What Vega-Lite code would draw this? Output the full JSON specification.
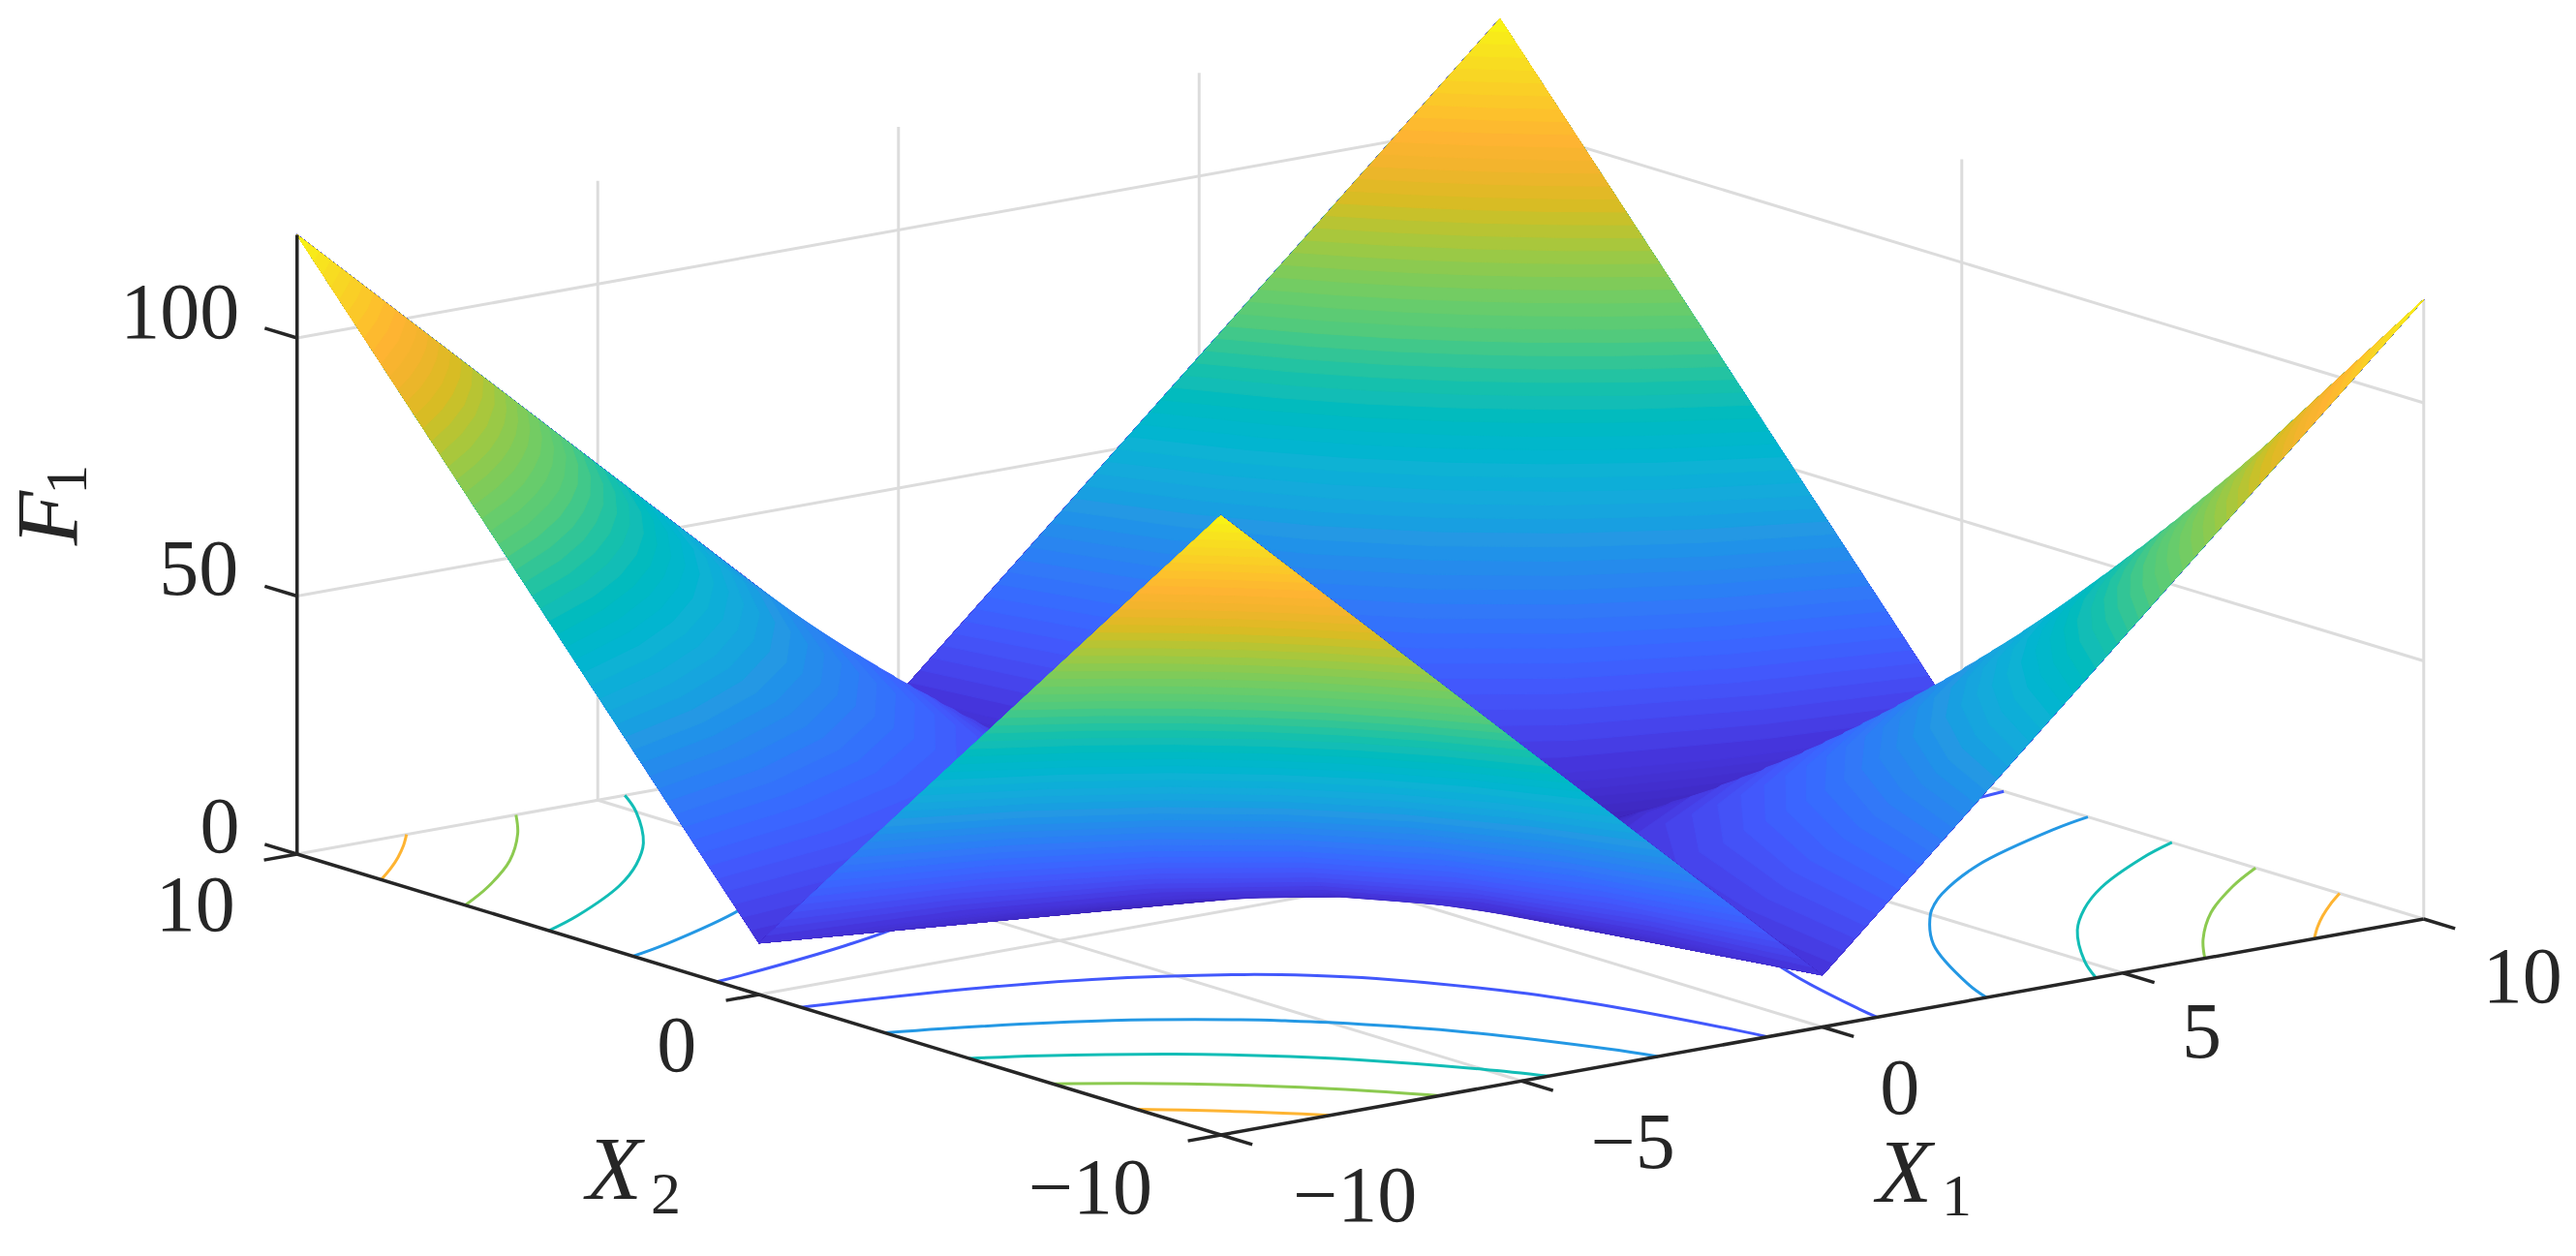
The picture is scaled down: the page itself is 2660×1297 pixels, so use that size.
{"$schema":"https://vega.github.io/schema/vega-lite/v6.json","autosize":{"type":"fit","contains":"padding"},"width":2660,"height":1297,"padding":0,"background":"white","view":{"stroke":null},
"datasets":{
"grid":[
{"g":"a","X1":-5,"X2":10,"F":0},{"g":"a","X1":-5,"X2":10,"F":120},
{"g":"b","X1":0,"X2":10,"F":0},{"g":"b","X1":0,"X2":10,"F":120},
{"g":"c","X1":5,"X2":10,"F":0},{"g":"c","X1":5,"X2":10,"F":120},
{"g":"d","X1":10,"X2":10,"F":0},{"g":"d","X1":10,"X2":10,"F":120},
{"g":"e","X1":10,"X2":0,"F":0},{"g":"e","X1":10,"X2":0,"F":120},
{"g":"f","X1":10,"X2":-10,"F":0},{"g":"f","X1":10,"X2":-10,"F":120},
{"g":"h","X1":-10,"X2":10,"F":0},{"g":"h","X1":10,"X2":10,"F":0},{"g":"h","X1":10,"X2":-10,"F":0},
{"g":"i","X1":-10,"X2":10,"F":50},{"g":"i","X1":10,"X2":10,"F":50},{"g":"i","X1":10,"X2":-10,"F":50},
{"g":"j","X1":-10,"X2":10,"F":100},{"g":"j","X1":10,"X2":10,"F":100},{"g":"j","X1":10,"X2":-10,"F":100},
{"g":"k","X1":-5,"X2":-10,"F":0},{"g":"k","X1":-5,"X2":10,"F":0},
{"g":"l","X1":0,"X2":-10,"F":0},{"g":"l","X1":0,"X2":10,"F":0},
{"g":"m","X1":5,"X2":-10,"F":0},{"g":"m","X1":5,"X2":10,"F":0},
{"g":"n","X1":-10,"X2":0,"F":0},{"g":"n","X1":10,"X2":0,"F":0}],
"axes":[
{"g":"z","X1":-10,"X2":10,"F":0},{"g":"z","X1":-10,"X2":10,"F":120},
{"g":"x2","X1":-10,"X2":10,"F":0},{"g":"x2","X1":-10,"X2":-10,"F":0},{"g":"x2","X1":10,"X2":-10,"F":0},
{"g":"t1","X1":-10,"X2":10,"F":0},{"g":"t1","X1":-10,"X2":10.7,"F":0},
{"g":"t2","X1":-10,"X2":10,"F":50},{"g":"t2","X1":-10,"X2":10.7,"F":50},
{"g":"t3","X1":-10,"X2":10,"F":100},{"g":"t3","X1":-10,"X2":10.7,"F":100},
{"g":"t4","X1":-10,"X2":10,"F":0},{"g":"t4","X1":-10.55,"X2":10,"F":0},
{"g":"t5","X1":-10,"X2":0,"F":0},{"g":"t5","X1":-10.55,"X2":0,"F":0},
{"g":"t6","X1":-10,"X2":-10,"F":0},{"g":"t6","X1":-10.55,"X2":-10,"F":0},
{"g":"t7","X1":-10,"X2":-10,"F":0},{"g":"t7","X1":-10,"X2":-10.68,"F":0},
{"g":"t8","X1":-5,"X2":-10,"F":0},{"g":"t8","X1":-5,"X2":-10.68,"F":0},
{"g":"t9","X1":0,"X2":-10,"F":0},{"g":"t9","X1":0,"X2":-10.68,"F":0},
{"g":"t10","X1":5,"X2":-10,"F":0},{"g":"t10","X1":5,"X2":-10.68,"F":0},
{"g":"t11","X1":10,"X2":-10,"F":0},{"g":"t11","X1":10,"X2":-10.68,"F":0}],
"contours":[
{"L":20,"a":0.91,"b":10},{"L":20,"a":1,"b":9.5},{"L":20,"a":1.5,"b":7.4},{"L":20,"a":2,"b":6},{"L":20,"a":3,"b":4.25},{"L":20,"a":3.58,"b":3.58},{"L":20,"a":4.25,"b":3},{"L":20,"a":6,"b":2},{"L":20,"a":7.4,"b":1.5},{"L":20,"a":9.5,"b":1},{"L":20,"a":10,"b":0.91},
{"L":40,"a":2.73,"b":10},{"L":40,"a":3,"b":9.25},{"L":40,"a":4,"b":7.2},{"L":40,"a":5,"b":5.83},{"L":40,"a":5.4,"b":5.4},{"L":40,"a":5.83,"b":5},{"L":40,"a":7.2,"b":4},{"L":40,"a":9.25,"b":3},{"L":40,"a":10,"b":2.73},
{"L":60,"a":4.55,"b":10},{"L":60,"a":5,"b":9.17},{"L":60,"a":6,"b":7.71},{"L":60,"a":6.81,"b":6.81},{"L":60,"a":7.71,"b":6},{"L":60,"a":9.17,"b":5},{"L":60,"a":10,"b":4.55},
{"L":80,"a":6.36,"b":10},{"L":80,"a":7,"b":9.13},{"L":80,"a":8,"b":8},{"L":80,"a":9.13,"b":7},{"L":80,"a":10,"b":6.36},
{"L":100,"a":8.18,"b":10},{"L":100,"a":8.6,"b":9.52},{"L":100,"a":9.05,"b":9.05},{"L":100,"a":9.52,"b":8.6},{"L":100,"a":10,"b":8.18}],
"bands":[
{"L":0,"a":0,"b":0},{"L":0,"a":10,"b":0,"F":10},{"L":0,"a":10,"b":10,"F":120},{"L":0,"a":0,"b":10,"F":10},
{"L":1,"a":0,"b":1},{"L":1,"a":0.2,"b":0.67},{"L":1,"a":0.41,"b":0.41},{"L":1,"a":0.67,"b":0.2},{"L":1,"a":1,"b":0},{"L":1,"a":10,"b":0,"F":10},{"L":1,"a":10,"b":10,"F":120},{"L":1,"a":0,"b":10,"F":10},
{"L":2,"a":0,"b":2},{"L":2,"a":0.2,"b":1.5},{"L":2,"a":0.4,"b":1.14},{"L":2,"a":0.73,"b":0.73},{"L":2,"a":1.14,"b":0.4},{"L":2,"a":1.5,"b":0.2},{"L":2,"a":2,"b":0},{"L":2,"a":10,"b":0,"F":10},{"L":2,"a":10,"b":10,"F":120},{"L":2,"a":0,"b":10,"F":10},
{"L":3,"a":0,"b":3},{"L":3,"a":0.25,"b":2.2},{"L":3,"a":0.5,"b":1.67},{"L":3,"a":1,"b":1},{"L":3,"a":1.67,"b":0.5},{"L":3,"a":2.2,"b":0.25},{"L":3,"a":3,"b":0},{"L":3,"a":10,"b":0,"F":10},{"L":3,"a":10,"b":10,"F":120},{"L":3,"a":0,"b":10,"F":10},
{"L":4,"a":0,"b":4},{"L":4,"a":0.25,"b":3},{"L":4,"a":0.6,"b":2.13},{"L":4,"a":1.24,"b":1.24},{"L":4,"a":2.13,"b":0.6},{"L":4,"a":3,"b":0.25},{"L":4,"a":4,"b":0},{"L":4,"a":10,"b":0,"F":10},{"L":4,"a":10,"b":10,"F":120},{"L":4,"a":0,"b":10,"F":10},
{"L":5,"a":0,"b":5},{"L":5,"a":0.3,"b":3.62},{"L":5,"a":0.7,"b":2.53},{"L":5,"a":1.45,"b":1.45},{"L":5,"a":2.53,"b":0.7},{"L":5,"a":3.62,"b":0.3},{"L":5,"a":5,"b":0},{"L":5,"a":10,"b":0,"F":10},{"L":5,"a":10,"b":10,"F":120},{"L":5,"a":0,"b":10,"F":10},
{"L":6,"a":0,"b":6},{"L":6,"a":0.3,"b":4.38},{"L":6,"a":0.8,"b":2.89},{"L":6,"a":1.65,"b":1.65},{"L":6,"a":2.89,"b":0.8},{"L":6,"a":4.38,"b":0.3},{"L":6,"a":6,"b":0},{"L":6,"a":10,"b":0,"F":10},{"L":6,"a":10,"b":10,"F":120},{"L":6,"a":0,"b":10,"F":10},
{"L":7,"a":0,"b":7},{"L":7,"a":0.3,"b":5.15},{"L":7,"a":0.9,"b":3.21},{"L":7,"a":1.83,"b":1.83},{"L":7,"a":3.21,"b":0.9},{"L":7,"a":5.15,"b":0.3},{"L":7,"a":7,"b":0},{"L":7,"a":10,"b":0,"F":10},{"L":7,"a":10,"b":10,"F":120},{"L":7,"a":0,"b":10,"F":10},
{"L":8,"a":0,"b":8},{"L":8,"a":0.3,"b":5.92},{"L":8,"a":0.8,"b":4},{"L":8,"a":2,"b":2},{"L":8,"a":4,"b":0.8},{"L":8,"a":5.92,"b":0.3},{"L":8,"a":8,"b":0},{"L":8,"a":10,"b":0,"F":10},{"L":8,"a":10,"b":10,"F":120},{"L":8,"a":0,"b":10,"F":10},
{"L":9,"a":0,"b":9},{"L":9,"a":0.25,"b":7},{"L":9,"a":0.8,"b":4.56},{"L":9,"a":2.16,"b":2.16},{"L":9,"a":4.56,"b":0.8},{"L":9,"a":7,"b":0.25},{"L":9,"a":9,"b":0},{"L":9,"a":10,"b":0,"F":10},{"L":9,"a":10,"b":10,"F":120},{"L":9,"a":0,"b":10,"F":10},
{"L":10,"a":0,"b":10},{"L":10,"a":0.2,"b":8.17},{"L":10,"a":0.5,"b":6.33},{"L":10,"a":1.3,"b":3.78},{"L":10,"a":2.32,"b":2.32},{"L":10,"a":3.78,"b":1.3},{"L":10,"a":6.33,"b":0.5},{"L":10,"a":8.17,"b":0.2},{"L":10,"a":10,"b":0},{"L":10,"a":10,"b":10,"F":120},
{"L":12,"a":0.18,"b":10},{"L":12,"a":0.6,"b":7.13},{"L":12,"a":1.4,"b":4.42},{"L":12,"a":2.61,"b":2.61},{"L":12,"a":4.42,"b":1.4},{"L":12,"a":7.13,"b":0.6},{"L":12,"a":10,"b":0.18},{"L":12,"a":10,"b":10,"F":120},
{"L":14,"a":0.36,"b":10},{"L":14,"a":0.8,"b":7.33},{"L":14,"a":1.6,"b":4.77},{"L":14,"a":2.87,"b":2.87},{"L":14,"a":4.77,"b":1.6},{"L":14,"a":7.33,"b":0.8},{"L":14,"a":10,"b":0.36},{"L":14,"a":10,"b":10,"F":120},
{"L":16,"a":0.55,"b":10},{"L":16,"a":1,"b":7.5},{"L":16,"a":1.9,"b":4.86},{"L":16,"a":3.12,"b":3.12},{"L":16,"a":4.86,"b":1.9},{"L":16,"a":7.5,"b":1},{"L":16,"a":10,"b":0.55},{"L":16,"a":10,"b":10,"F":120},
{"L":18,"a":0.73,"b":10},{"L":18,"a":1.2,"b":7.64},{"L":18,"a":2.1,"b":5.13},{"L":18,"a":3.36,"b":3.36},{"L":18,"a":5.13,"b":2.1},{"L":18,"a":7.64,"b":1.2},{"L":18,"a":10,"b":0.73},{"L":18,"a":10,"b":10,"F":120},
{"L":20,"a":0.91,"b":10},{"L":20,"a":1.5,"b":7.4},{"L":20,"a":2.4,"b":5.18},{"L":20,"a":3.58,"b":3.58},{"L":20,"a":5.18,"b":2.4},{"L":20,"a":7.4,"b":1.5},{"L":20,"a":10,"b":0.91},{"L":20,"a":10,"b":10,"F":120},
{"L":22,"a":1.09,"b":10},{"L":22,"a":1.7,"b":7.52},{"L":22,"a":2.6,"b":5.39},{"L":22,"a":3.8,"b":3.8},{"L":22,"a":5.39,"b":2.6},{"L":22,"a":7.52,"b":1.7},{"L":22,"a":10,"b":1.09},{"L":22,"a":10,"b":10,"F":120},
{"L":24,"a":1.27,"b":10},{"L":24,"a":1.9,"b":7.62},{"L":24,"a":2.8,"b":5.58},{"L":24,"a":4,"b":4},{"L":24,"a":5.58,"b":2.8},{"L":24,"a":7.62,"b":1.9},{"L":24,"a":10,"b":1.27},{"L":24,"a":10,"b":10,"F":120},
{"L":26,"a":1.45,"b":10},{"L":26,"a":2.1,"b":7.71},{"L":26,"a":3,"b":5.75},{"L":26,"a":4.2,"b":4.2},{"L":26,"a":5.75,"b":3},{"L":26,"a":7.71,"b":2.1},{"L":26,"a":10,"b":1.45},{"L":26,"a":10,"b":10,"F":120},
{"L":28,"a":1.64,"b":10},{"L":28,"a":2.3,"b":7.79},{"L":28,"a":3.2,"b":5.9},{"L":28,"a":4.39,"b":4.39},{"L":28,"a":5.9,"b":3.2},{"L":28,"a":7.79,"b":2.3},{"L":28,"a":10,"b":1.64},{"L":28,"a":10,"b":10,"F":120},
{"L":30,"a":1.82,"b":10},{"L":30,"a":2.5,"b":7.86},{"L":30,"a":3.4,"b":6.05},{"L":30,"a":4.57,"b":4.57},{"L":30,"a":6.05,"b":3.4},{"L":30,"a":7.86,"b":2.5},{"L":30,"a":10,"b":1.82},{"L":30,"a":10,"b":10,"F":120},
{"L":32,"a":2,"b":10},{"L":32,"a":2.7,"b":7.92},{"L":32,"a":3.6,"b":6.17},{"L":32,"a":4.75,"b":4.75},{"L":32,"a":6.17,"b":3.6},{"L":32,"a":7.92,"b":2.7},{"L":32,"a":10,"b":2},{"L":32,"a":10,"b":10,"F":120},
{"L":34,"a":2.18,"b":10},{"L":34,"a":2.9,"b":7.97},{"L":34,"a":3.8,"b":6.29},{"L":34,"a":4.92,"b":4.92},{"L":34,"a":6.29,"b":3.8},{"L":34,"a":7.97,"b":2.9},{"L":34,"a":10,"b":2.18},{"L":34,"a":10,"b":10,"F":120},
{"L":36,"a":2.36,"b":10},{"L":36,"a":3,"b":8.25},{"L":36,"a":4,"b":6.4},{"L":36,"a":5.08,"b":5.08},{"L":36,"a":6.4,"b":4},{"L":36,"a":8.25,"b":3},{"L":36,"a":10,"b":2.36},{"L":36,"a":10,"b":10,"F":120},
{"L":38,"a":2.55,"b":10},{"L":38,"a":3.2,"b":8.29},{"L":38,"a":4.2,"b":6.5},{"L":38,"a":5.25,"b":5.25},{"L":38,"a":6.5,"b":4.2},{"L":38,"a":8.29,"b":3.2},{"L":38,"a":10,"b":2.55},{"L":38,"a":10,"b":10,"F":120},
{"L":40,"a":2.73,"b":10},{"L":40,"a":3.4,"b":8.32},{"L":40,"a":4.3,"b":6.74},{"L":40,"a":5.4,"b":5.4},{"L":40,"a":6.74,"b":4.3},{"L":40,"a":8.32,"b":3.4},{"L":40,"a":10,"b":2.73},{"L":40,"a":10,"b":10,"F":120},
{"L":42,"a":2.91,"b":10},{"L":42,"a":3.6,"b":8.35},{"L":42,"a":4.5,"b":6.82},{"L":42,"a":5.56,"b":5.56},{"L":42,"a":6.82,"b":4.5},{"L":42,"a":8.35,"b":3.6},{"L":42,"a":10,"b":2.91},{"L":42,"a":10,"b":10,"F":120},
{"L":44,"a":3.09,"b":10},{"L":44,"a":3.8,"b":8.38},{"L":44,"a":4.7,"b":6.89},{"L":44,"a":5.71,"b":5.71},{"L":44,"a":6.89,"b":4.7},{"L":44,"a":8.38,"b":3.8},{"L":44,"a":10,"b":3.09},{"L":44,"a":10,"b":10,"F":120},
{"L":46,"a":3.27,"b":10},{"L":46,"a":4,"b":8.4},{"L":46,"a":4.9,"b":6.97},{"L":46,"a":5.86,"b":5.86},{"L":46,"a":6.97,"b":4.9},{"L":46,"a":8.4,"b":4},{"L":46,"a":10,"b":3.27},{"L":46,"a":10,"b":10,"F":120},
{"L":48,"a":3.45,"b":10},{"L":48,"a":4.2,"b":8.42},{"L":48,"a":5,"b":7.17},{"L":48,"a":6,"b":6},{"L":48,"a":7.17,"b":5},{"L":48,"a":8.42,"b":4.2},{"L":48,"a":10,"b":3.45},{"L":48,"a":10,"b":10,"F":120},
{"L":50,"a":3.64,"b":10},{"L":50,"a":4.4,"b":8.44},{"L":50,"a":5.2,"b":7.23},{"L":50,"a":6.14,"b":6.14},{"L":50,"a":7.23,"b":5.2},{"L":50,"a":8.44,"b":4.4},{"L":50,"a":10,"b":3.64},{"L":50,"a":10,"b":10,"F":120},
{"L":52,"a":3.82,"b":10},{"L":52,"a":4.6,"b":8.46},{"L":52,"a":5.4,"b":7.28},{"L":52,"a":6.28,"b":6.28},{"L":52,"a":7.28,"b":5.4},{"L":52,"a":8.46,"b":4.6},{"L":52,"a":10,"b":3.82},{"L":52,"a":10,"b":10,"F":120},
{"L":54,"a":4,"b":10},{"L":54,"a":4.8,"b":8.48},{"L":54,"a":5.6,"b":7.33},{"L":54,"a":6.42,"b":6.42},{"L":54,"a":7.33,"b":5.6},{"L":54,"a":8.48,"b":4.8},{"L":54,"a":10,"b":4},{"L":54,"a":10,"b":10,"F":120},
{"L":56,"a":4.18,"b":10},{"L":56,"a":5,"b":8.5},{"L":56,"a":5.8,"b":7.38},{"L":56,"a":6.55,"b":6.55},{"L":56,"a":7.38,"b":5.8},{"L":56,"a":8.5,"b":5},{"L":56,"a":10,"b":4.18},{"L":56,"a":10,"b":10,"F":120},
{"L":58,"a":4.36,"b":10},{"L":58,"a":5.1,"b":8.67},{"L":58,"a":5.9,"b":7.55},{"L":58,"a":6.68,"b":6.68},{"L":58,"a":7.55,"b":5.9},{"L":58,"a":8.67,"b":5.1},{"L":58,"a":10,"b":4.36},{"L":58,"a":10,"b":10,"F":120},
{"L":60,"a":4.55,"b":10},{"L":60,"a":5.3,"b":8.68},{"L":60,"a":6,"b":7.71},{"L":60,"a":6.81,"b":6.81},{"L":60,"a":7.71,"b":6},{"L":60,"a":8.68,"b":5.3},{"L":60,"a":10,"b":4.55},{"L":60,"a":10,"b":10,"F":120},
{"L":62,"a":4.73,"b":10},{"L":62,"a":5.5,"b":8.69},{"L":62,"a":6.2,"b":7.75},{"L":62,"a":6.94,"b":6.94},{"L":62,"a":7.75,"b":6.2},{"L":62,"a":8.69,"b":5.5},{"L":62,"a":10,"b":4.73},{"L":62,"a":10,"b":10,"F":120},
{"L":64,"a":4.91,"b":10},{"L":64,"a":5.6,"b":8.85},{"L":64,"a":6.3,"b":7.9},{"L":64,"a":7.06,"b":7.06},{"L":64,"a":7.9,"b":6.3},{"L":64,"a":8.85,"b":5.6},{"L":64,"a":10,"b":4.91},{"L":64,"a":10,"b":10,"F":120},
{"L":66,"a":5.09,"b":10},{"L":66,"a":5.8,"b":8.85},{"L":66,"a":6.5,"b":7.93},{"L":66,"a":7.19,"b":7.19},{"L":66,"a":7.93,"b":6.5},{"L":66,"a":8.85,"b":5.8},{"L":66,"a":10,"b":5.09},{"L":66,"a":10,"b":10,"F":120},
{"L":68,"a":5.27,"b":10},{"L":68,"a":6,"b":8.86},{"L":68,"a":6.7,"b":7.96},{"L":68,"a":7.31,"b":7.31},{"L":68,"a":7.96,"b":6.7},{"L":68,"a":8.86,"b":6},{"L":68,"a":10,"b":5.27},{"L":68,"a":10,"b":10,"F":120},
{"L":70,"a":5.45,"b":10},{"L":70,"a":6.1,"b":9},{"L":70,"a":6.8,"b":8.1},{"L":70,"a":7.43,"b":7.43},{"L":70,"a":8.1,"b":6.8},{"L":70,"a":9,"b":6.1},{"L":70,"a":10,"b":5.45},{"L":70,"a":10,"b":10,"F":120},
{"L":72,"a":5.64,"b":10},{"L":72,"a":6.3,"b":9},{"L":72,"a":7,"b":8.13},{"L":72,"a":7.54,"b":7.54},{"L":72,"a":8.13,"b":7},{"L":72,"a":9,"b":6.3},{"L":72,"a":10,"b":5.64},{"L":72,"a":10,"b":10,"F":120},
{"L":74,"a":5.82,"b":10},{"L":74,"a":6.5,"b":9},{"L":74,"a":7.1,"b":8.26},{"L":74,"a":7.66,"b":7.66},{"L":74,"a":8.26,"b":7.1},{"L":74,"a":9,"b":6.5},{"L":74,"a":10,"b":5.82},{"L":74,"a":10,"b":10,"F":120},
{"L":76,"a":6,"b":10},{"L":76,"a":6.6,"b":9.13},{"L":76,"a":7.2,"b":8.39},{"L":76,"a":7.78,"b":7.78},{"L":76,"a":8.39,"b":7.2},{"L":76,"a":9.13,"b":6.6},{"L":76,"a":10,"b":6},{"L":76,"a":10,"b":10,"F":120},
{"L":78,"a":6.18,"b":10},{"L":78,"a":6.8,"b":9.13},{"L":78,"a":7.4,"b":8.4},{"L":78,"a":7.89,"b":7.89},{"L":78,"a":8.4,"b":7.4},{"L":78,"a":9.13,"b":6.8},{"L":78,"a":10,"b":6.18},{"L":78,"a":10,"b":10,"F":120},
{"L":80,"a":6.36,"b":10},{"L":80,"a":7,"b":9.13},{"L":80,"a":7.5,"b":8.53},{"L":80,"a":8,"b":8},{"L":80,"a":8.53,"b":7.5},{"L":80,"a":9.13,"b":7},{"L":80,"a":10,"b":6.36},{"L":80,"a":10,"b":10,"F":120},
{"L":82,"a":6.55,"b":10},{"L":82,"a":7.1,"b":9.25},{"L":82,"a":7.6,"b":8.65},{"L":82,"a":8.11,"b":8.11},{"L":82,"a":8.65,"b":7.6},{"L":82,"a":9.25,"b":7.1},{"L":82,"a":10,"b":6.55},{"L":82,"a":10,"b":10,"F":120},
{"L":84,"a":6.73,"b":10},{"L":84,"a":7.4,"b":9.12},{"L":84,"a":8.22,"b":8.22},{"L":84,"a":9.12,"b":7.4},{"L":84,"a":10,"b":6.73},{"L":84,"a":10,"b":10,"F":120},
{"L":86,"a":6.91,"b":10},{"L":86,"a":7.6,"b":9.12},{"L":86,"a":8.33,"b":8.33},{"L":86,"a":9.12,"b":7.6},{"L":86,"a":10,"b":6.91},{"L":86,"a":10,"b":10,"F":120},
{"L":88,"a":7.09,"b":10},{"L":88,"a":7.7,"b":9.23},{"L":88,"a":8.43,"b":8.43},{"L":88,"a":9.23,"b":7.7},{"L":88,"a":10,"b":7.09},{"L":88,"a":10,"b":10,"F":120},
{"L":90,"a":7.27,"b":10},{"L":90,"a":7.9,"b":9.22},{"L":90,"a":8.54,"b":8.54},{"L":90,"a":9.22,"b":7.9},{"L":90,"a":10,"b":7.27},{"L":90,"a":10,"b":10,"F":120},
{"L":92,"a":7.45,"b":10},{"L":92,"a":8,"b":9.33},{"L":92,"a":8.64,"b":8.64},{"L":92,"a":9.33,"b":8},{"L":92,"a":10,"b":7.45},{"L":92,"a":10,"b":10,"F":120},
{"L":94,"a":7.64,"b":10},{"L":94,"a":8.2,"b":9.33},{"L":94,"a":8.75,"b":8.75},{"L":94,"a":9.33,"b":8.2},{"L":94,"a":10,"b":7.64},{"L":94,"a":10,"b":10,"F":120},
{"L":96,"a":7.82,"b":10},{"L":96,"a":8.3,"b":9.43},{"L":96,"a":8.85,"b":8.85},{"L":96,"a":9.43,"b":8.3},{"L":96,"a":10,"b":7.82},{"L":96,"a":10,"b":10,"F":120},
{"L":98,"a":8,"b":10},{"L":98,"a":8.4,"b":9.53},{"L":98,"a":8.95,"b":8.95},{"L":98,"a":9.53,"b":8.4},{"L":98,"a":10,"b":8},{"L":98,"a":10,"b":10,"F":120},
{"L":100,"a":8.18,"b":10},{"L":100,"a":9.05,"b":9.05},{"L":100,"a":10,"b":8.18},{"L":100,"a":10,"b":10,"F":120},
{"L":102,"a":8.36,"b":10},{"L":102,"a":9.15,"b":9.15},{"L":102,"a":10,"b":8.36},{"L":102,"a":10,"b":10,"F":120},
{"L":104,"a":8.55,"b":10},{"L":104,"a":9.25,"b":9.25},{"L":104,"a":10,"b":8.55},{"L":104,"a":10,"b":10,"F":120},
{"L":106,"a":8.73,"b":10},{"L":106,"a":9.34,"b":9.34},{"L":106,"a":10,"b":8.73},{"L":106,"a":10,"b":10,"F":120},
{"L":108,"a":8.91,"b":10},{"L":108,"a":9.44,"b":9.44},{"L":108,"a":10,"b":8.91},{"L":108,"a":10,"b":10,"F":120},
{"L":110,"a":9.09,"b":10},{"L":110,"a":9.54,"b":9.54},{"L":110,"a":10,"b":9.09},{"L":110,"a":10,"b":10,"F":120},
{"L":112,"a":9.27,"b":10},{"L":112,"a":9.63,"b":9.63},{"L":112,"a":10,"b":9.27},{"L":112,"a":10,"b":10,"F":120},
{"L":114,"a":9.45,"b":10},{"L":114,"a":9.72,"b":9.72},{"L":114,"a":10,"b":9.45},{"L":114,"a":10,"b":10,"F":120},
{"L":116,"a":9.64,"b":10},{"L":116,"a":9.82,"b":9.82},{"L":116,"a":10,"b":9.64},{"L":116,"a":10,"b":10,"F":120},
{"L":118,"a":9.82,"b":10},{"L":118,"a":9.91,"b":9.91},{"L":118,"a":10,"b":9.82},{"L":118,"a":10,"b":10,"F":120}]
},
"encoding":{"x":{"field":"sx","type":"quantitative","scale":{"domain":[0,2660],"nice":false,"zero":false},"axis":null},"y":{"field":"sy","type":"quantitative","scale":{"domain":[1297,0],"nice":false,"zero":false},"axis":null}},
"layer":[
{"data":{"name":"grid"},"transform":[{"calculate":"1404.75+62.1*datum.X1-47.7*datum.X2","as":"sx"},{"calculate":"915.5-11.15*datum.X1-14.5*datum.X2-5.33*datum.F","as":"sy"}],"mark":{"type":"line","color":"#dcdcdc","strokeWidth":3},"encoding":{"detail":{"field":"g"}}},
{"encoding":{"stroke":{"field":"L","type":"quantitative","legend":null,"scale":{"domain":[0,5,10,15,20,25,30,35,40,45,50,55,60,65,70,75,80,85,90,95,100,105,110,115,120],"range":["#3a1cae","#3f2ac4","#4535dc","#4648f0","#4258fc","#3a68ff","#3278f8","#2a88ee","#2498e4","#1aa8dc","#0eb2d4","#04b8c8","#12bdb6","#2cc49c","#52ca7c","#6ccc68","#8cca50","#b0c638","#d8bc24","#f0b42c","#feb432","#fcc42a","#f8d624","#f8e61c","#f8fa10"]}},"detail":{"field":"L"},"order":{"field":"i","type":"quantitative"}},
"layer":[
{"data":{"name":"contours"},"transform":[{"window":[{"op":"row_number","as":"i"}]},{"calculate":"1404.75+62.1*datum.a-47.7*datum.b","as":"sx"},{"calculate":"915.5-11.15*datum.a-14.5*datum.b","as":"sy"}],"mark":{"type":"line","strokeWidth":3,"interpolate":"catmull-rom"}},
{"data":{"name":"contours"},"transform":[{"window":[{"op":"row_number","as":"i"}]},{"calculate":"1404.75-62.1*datum.a-47.7*datum.b","as":"sx"},{"calculate":"915.5+11.15*datum.a-14.5*datum.b","as":"sy"}],"mark":{"type":"line","strokeWidth":3,"interpolate":"catmull-rom"}},
{"data":{"name":"contours"},"transform":[{"window":[{"op":"row_number","as":"i"}]},{"calculate":"1404.75+62.1*datum.a+47.7*datum.b","as":"sx"},{"calculate":"915.5-11.15*datum.a+14.5*datum.b","as":"sy"}],"mark":{"type":"line","strokeWidth":3,"interpolate":"catmull-rom"}},
{"data":{"name":"contours"},"transform":[{"window":[{"op":"row_number","as":"i"}]},{"calculate":"1404.75-62.1*datum.a+47.7*datum.b","as":"sx"},{"calculate":"915.5+11.15*datum.a+14.5*datum.b","as":"sy"}],"mark":{"type":"line","strokeWidth":3,"interpolate":"catmull-rom"}},
{"data":{"name":"bands"},"transform":[{"window":[{"op":"row_number","as":"i"}]},{"calculate":"1404.75+62.1*datum.a-47.7*datum.b","as":"sx"},{"calculate":"915.5-11.15*datum.a-14.5*datum.b-5.33*(datum.F||datum.L)","as":"sy"}],"mark":{"type":"line","strokeWidth":1},"encoding":{"fill":{"field":"L","type":"quantitative","legend":null,"scale":{"domain":[0,5,10,15,20,25,30,35,40,45,50,55,60,65,70,75,80,85,90,95,100,105,110,115,120],"range":["#3a1cae","#3f2ac4","#4535dc","#4648f0","#4258fc","#3a68ff","#3278f8","#2a88ee","#2498e4","#1aa8dc","#0eb2d4","#04b8c8","#12bdb6","#2cc49c","#52ca7c","#6ccc68","#8cca50","#b0c638","#d8bc24","#f0b42c","#feb432","#fcc42a","#f8d624","#f8e61c","#f8fa10"]}}}},
{"data":{"name":"bands"},"transform":[{"window":[{"op":"row_number","as":"i"}]},{"calculate":"1404.75-62.1*datum.a-47.7*datum.b","as":"sx"},{"calculate":"915.5+11.15*datum.a-14.5*datum.b-5.33*(datum.F||datum.L)","as":"sy"}],"mark":{"type":"line","strokeWidth":1},"encoding":{"fill":{"field":"L","type":"quantitative","legend":null}}},
{"data":{"name":"bands"},"transform":[{"window":[{"op":"row_number","as":"i"}]},{"calculate":"1404.75+62.1*datum.a+47.7*datum.b","as":"sx"},{"calculate":"915.5-11.15*datum.a+14.5*datum.b-5.33*(datum.F||datum.L)","as":"sy"}],"mark":{"type":"line","strokeWidth":1},"encoding":{"fill":{"field":"L","type":"quantitative","legend":null}}},
{"data":{"name":"bands"},"transform":[{"window":[{"op":"row_number","as":"i"}]},{"calculate":"1404.75-62.1*datum.a+47.7*datum.b","as":"sx"},{"calculate":"915.5+11.15*datum.a+14.5*datum.b-5.33*(datum.F||datum.L)","as":"sy"}],"mark":{"type":"line","strokeWidth":1},"encoding":{"fill":{"field":"L","type":"quantitative","legend":null}}}
]},
{"data":{"name":"axes"},"transform":[{"calculate":"1404.75+62.1*datum.X1-47.7*datum.X2","as":"sx"},{"calculate":"915.5-11.15*datum.X1-14.5*datum.X2-5.33*datum.F","as":"sy"}],"mark":{"type":"line","color":"#262626","strokeWidth":3.5},"encoding":{"detail":{"field":"g"}}},
{"data":{"values":[
{"label":"100","X1":-10.39,"X2":12.03,"F":100},{"label":"50","X1":-10.13,"X2":11.96,"F":50},{"label":"0","X1":-9.91,"X2":11.79,"F":0},
{"label":"10","X1":-12.86,"X2":8.48,"F":0},{"label":"0","X1":-12.66,"X2":-1.68,"F":0},{"label":"−10","X1":-13.23,"X2":-11.38,"F":0},
{"label":"−10","X1":-10.73,"X2":-13.85,"F":0},{"label":"−5","X1":-6,"X2":-13.71,"F":0},{"label":"0","X1":-1.34,"X2":-13.42,"F":0},{"label":"5","X1":3.76,"X2":-13.32,"F":0},{"label":"10","X1":9,"X2":-13.44,"F":0}]},
"transform":[{"calculate":"1404.75+62.1*datum.X1-47.7*datum.X2","as":"sx"},{"calculate":"915.5-11.15*datum.X1-14.5*datum.X2-5.33*datum.F","as":"sy"}],"mark":{"type":"text","font":"Liberation Serif","fontSize":82,"color":"#262626","align":"center","baseline":"middle"},"encoding":{"text":{"field":"label"}}},
{"data":{"values":[{"label":"X","X1":-17.61,"X2":-6.77,"F":0},{"label":"X","X1":-4.22,"X2":-17.27,"F":0}]},
"transform":[{"calculate":"1404.75+62.1*datum.X1-47.7*datum.X2","as":"sx"},{"calculate":"915.5-11.15*datum.X1-14.5*datum.X2-5.33*datum.F","as":"sy"}],"mark":{"type":"text","font":"Liberation Serif","fontStyle":"italic","fontSize":94,"color":"#262626","align":"center","baseline":"middle"},"encoding":{"text":{"field":"label"}}},
{"data":{"values":[{"label":"2","X1":-17.87,"X2":-8.23,"F":0},{"label":"1","X1":-4.44,"X2":-18.69,"F":0}]},
"transform":[{"calculate":"1404.75+62.1*datum.X1-47.7*datum.X2","as":"sx"},{"calculate":"915.5-11.15*datum.X1-14.5*datum.X2-5.33*datum.F","as":"sy"}],"mark":{"type":"text","font":"Liberation Serif","fontSize":62,"color":"#262626","align":"center","baseline":"middle"},"encoding":{"text":{"field":"label"}}},
{"data":{"values":[{"label":"F","X1":-11.68,"X2":13.16,"F":60}]},
"transform":[{"calculate":"1404.75+62.1*datum.X1-47.7*datum.X2","as":"sx"},{"calculate":"915.5-11.15*datum.X1-14.5*datum.X2-5.33*datum.F","as":"sy"}],"mark":{"type":"text","font":"Liberation Serif","fontStyle":"italic","fontSize":92,"angle":270,"color":"#262626","align":"center","baseline":"middle"},"encoding":{"text":{"field":"label"}}},
{"data":{"values":[{"label":"1","X1":-10.17,"X2":14.75,"F":60}]},
"transform":[{"calculate":"1404.75+62.1*datum.X1-47.7*datum.X2","as":"sx"},{"calculate":"915.5-11.15*datum.X1-14.5*datum.X2-5.33*datum.F","as":"sy"}],"mark":{"type":"text","font":"Liberation Serif","fontSize":62,"angle":270,"color":"#262626","align":"center","baseline":"middle"},"encoding":{"text":{"field":"label"}}}
]}
